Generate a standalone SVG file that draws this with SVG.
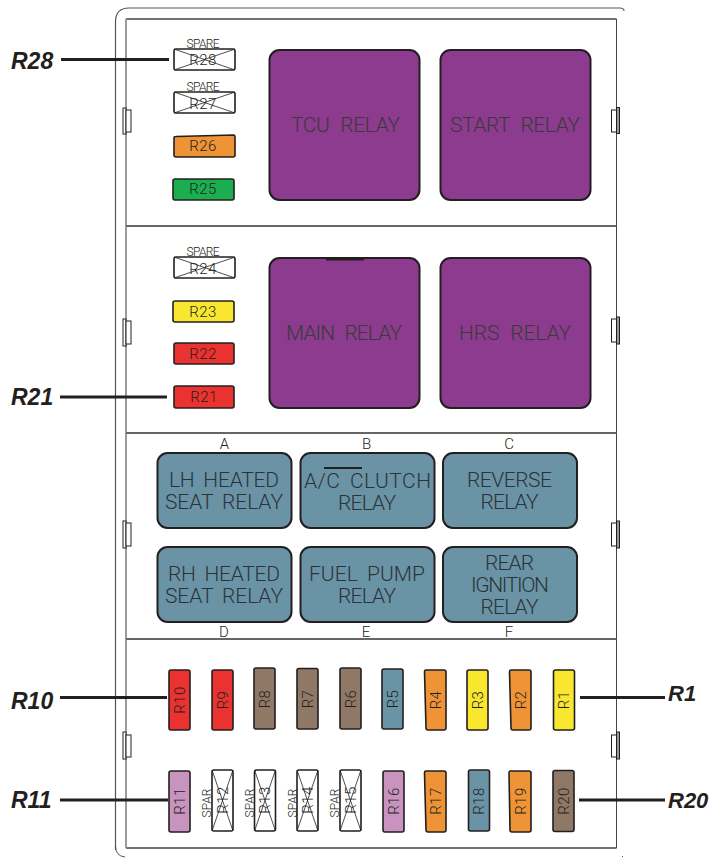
<svg xmlns="http://www.w3.org/2000/svg" width="717" height="858" viewBox="0 0 717 858">
<style>
text{font-family:Roboto,"Liberation Sans",Arial,sans-serif;font-weight:300;fill:#231f20;text-anchor:middle}
.f{stroke:#231f20;stroke-width:1.600}
.o{fill:#ee9336}.g{fill:#1aae4f}.y{fill:#f9e62f}.r{fill:#ea3330}.w{fill:#fff}.b{fill:#8f7866}.t{fill:#6a94a6}.p{fill:#c893bf}
.v{fill:#8d3b8e;stroke:#231f20;stroke-width:2}
.u{fill:#6a94a6;stroke:#231f20;stroke-width:2}
.x{stroke:#231f20;stroke-width:.8;fill:none}
.ft{font-size:15px;letter-spacing:.4px}.sp{font-size:12px}
.rl{font-size:21px;fill:#3a3a3a;word-spacing:6px}
.ty{font-size:21px;fill:#2a3338;word-spacing:4px}
.ab{font-size:15px}
.lb{font-family:"Liberation Sans",Arial,sans-serif;font-weight:bold;font-style:italic;fill:#231f20;text-anchor:start}
.c{stroke:#231f20;stroke-width:3;fill:none}
.cw{fill:#fff;stroke:#231f20;stroke-width:1}
.cg{fill:#999;stroke:#231f20;stroke-width:1}
</style>
<g id="housing" fill="none">
<path d="M115.500 850V22Q115.500 8 129 8H620Q624 8 624 11" stroke="#555" stroke-width="1.200"/>
<path d="M115.500 846Q115.500 856 125 857M622 857L623 856" stroke="#555" stroke-width="1"/>
<path d="M126 848V19H616.500V848Z" stroke="#444" stroke-width="1"/>
<path d="M126 19H616.500M126 848H616.500" stroke="#444" stroke-width="1.200"/>
<path d="M126 19V848" stroke="#999" stroke-width="1.500"/>
<path d="M126 226H616.500M126 433H616.500M126 639H616.500" stroke="#666" stroke-width="2"/>
</g>
<g id="clips">
<rect class="cw" x="123" y="108" width="3" height="26"/><rect class="cw" x="126" y="110" width="5" height="22"/>
<rect class="cw" x="123" y="319" width="3" height="27"/><rect class="cw" x="126" y="321" width="5" height="23"/>
<rect class="cw" x="123" y="521" width="3" height="27"/><rect class="cw" x="126" y="523" width="5" height="23"/>
<rect class="cw" x="123" y="732" width="3" height="27"/><rect class="cw" x="126" y="735" width="5" height="22"/>
<rect class="cw" x="611.500" y="110" width="5" height="22"/><rect class="cg" x="616.500" y="107.500" width="3" height="26"/>
<rect class="cw" x="611.500" y="319" width="5" height="23"/><rect class="cg" x="616.500" y="317" width="3" height="27"/>
<rect class="cw" x="611.500" y="523" width="5" height="23"/><rect class="cg" x="616.500" y="521" width="3" height="27"/>
<rect class="cw" x="611.500" y="735" width="5" height="22"/><rect class="cg" x="616.500" y="732" width="3" height="27"/>
</g>
<g id="R28"><rect class="f w" x="174" y="49" width="61" height="21" rx="2"/><path class="x" d="M174 49L235 70M174 70L235 49"/><text class="sp" x="203" y="48" textLength="33">SPARE</text><text class="ft" x="203" y="65">R28</text></g>
<g id="R27"><rect class="f w" x="174" y="92" width="61" height="21" rx="2"/><path class="x" d="M174 92L235 113M174 113L235 92"/><text class="sp" x="203" y="91" textLength="33">SPARE</text><text class="ft" x="203" y="109">R27</text></g>
<g id="R26"><path class="f o" d="M176 136.500L234 135Q235 135 235 137V155Q235 157 233 157H176Q174 157 174 155V138Q174 136.500 176 136.500Z"/><text class="ft" x="203" y="151">R26</text></g>
<g id="R25"><rect class="f g" x="173" y="179" width="61" height="21" rx="2"/><text class="ft" x="203" y="194">R25</text></g>
<g id="R24"><rect class="f w" x="174" y="257" width="61" height="21" rx="2"/><path class="x" d="M174 257L235 278M174 278L235 257"/><text class="sp" x="203" y="256" textLength="33">SPARE</text><text class="ft" x="203" y="274">R24</text></g>
<g id="R23"><rect class="f y" x="173" y="301" width="61" height="21" rx="2"/><text class="ft" x="203" y="317">R23</text></g>
<g id="R22"><rect class="f r" x="174" y="343" width="60" height="21" rx="2"/><text class="ft" x="203" y="359">R22</text></g>
<g id="R21"><rect class="f r" x="174" y="386" width="60" height="22" rx="2"/><text class="ft" x="204" y="402">R21</text></g>
<g id="TCU"><rect class="v" x="269.500" y="50" width="150" height="150" rx="10"/><text class="rl" x="345.500" y="132" textLength="109">TCU RELAY</text></g>
<g id="START"><rect class="v" x="440.500" y="50" width="150" height="150" rx="10"/><text class="rl" x="515" y="132" textLength="130">START RELAY</text></g>
<g id="MAIN"><rect class="v" x="269.500" y="258" width="150" height="150" rx="10"/><path d="M326 259.500H364" stroke="#231f20" stroke-width="2"/><text class="rl" x="344" y="340" textLength="116">MAIN RELAY</text></g>
<g id="HRS"><rect class="v" x="440.500" y="258" width="150" height="150" rx="10"/><text class="rl" x="515" y="340" textLength="112">HRS RELAY</text></g>
<g id="A"><rect class="u" x="157.500" y="453" width="134" height="75" rx="10"/><text class="ab" x="224.500" y="449">A</text><text class="ty" x="224" y="487" textLength="110">LH HEATED</text><text class="ty" x="224" y="509" textLength="118">SEAT RELAY</text></g>
<g id="B"><rect class="u" x="300.500" y="453" width="134" height="75" rx="10"/><text class="ab" x="366.500" y="449">B</text><path d="M324 468H362" stroke="#231f20" stroke-width="2"/><text class="ty" x="367.500" y="488" textLength="127">A/C CLUTCH</text><text class="ty" x="367" y="510" textLength="58">RELAY</text></g>
<g id="C"><rect class="u" x="443" y="453" width="134" height="75" rx="10"/><text class="ab" x="509" y="449">C</text><text class="ty" x="509.500" y="487" textLength="85">REVERSE</text><text class="ty" x="509.500" y="509" textLength="58">RELAY</text></g>
<g id="D"><rect class="u" x="157.500" y="547" width="134" height="75" rx="10"/><text class="ab" x="224" y="637">D</text><text class="ty" x="224" y="581" textLength="112">RH HEATED</text><text class="ty" x="224" y="603" textLength="118">SEAT RELAY</text></g>
<g id="E"><rect class="u" x="300.500" y="547" width="134" height="75" rx="10"/><text class="ab" x="366" y="637">E</text><text class="ty" x="367" y="581" textLength="116">FUEL PUMP</text><text class="ty" x="367" y="603" textLength="58">RELAY</text></g>
<g id="F"><rect class="u" x="443" y="547" width="134" height="75" rx="10"/><text class="ab" x="509" y="637">F</text><text class="ty" x="509.500" y="570" textLength="49">REAR</text><text class="ty" x="510" y="592" textLength="78">IGNITION</text><text class="ty" x="509.500" y="614" textLength="58">RELAY</text></g>
<g id="R10"><rect class="f r" x="169" y="670" width="21" height="60" rx="2"/><text class="ft" transform="translate(184.500 700) rotate(-90)">R10</text></g>
<g id="R9"><rect class="f r" x="212" y="670" width="21" height="60" rx="2"/><text class="ft" transform="translate(227.500 700) rotate(-90)">R9</text></g>
<g id="R8"><rect class="f b" x="254" y="668" width="21" height="61" rx="2"/><text class="ft" transform="translate(269.500 699) rotate(-90)">R8</text></g>
<g id="R7"><rect class="f b" x="297" y="668.500" width="21" height="60.500" rx="2"/><text class="ft" transform="translate(312.500 699) rotate(-90)">R7</text></g>
<g id="R6"><rect class="f b" x="340" y="668" width="21" height="61" rx="2"/><text class="ft" transform="translate(355.500 699) rotate(-90)">R6</text></g>
<g id="R5"><rect class="f t" x="382" y="669" width="21" height="60" rx="2"/><text class="ft" transform="translate(397.500 699) rotate(-90)">R5</text></g>
<g id="R4"><path class="f o" d="M426 670H444Q446 670 446 672V728Q446 730 444 730H428Q426 730 426 728L424.500 672Q424.500 670 426 670Z"/><text class="ft" transform="translate(440.500 700) rotate(-90)">R4</text></g>
<g id="R3"><rect class="f y" x="467" y="670" width="21" height="60" rx="2"/><text class="ft" transform="translate(482.500 700) rotate(-90)">R3</text></g>
<g id="R2"><path class="f o" d="M511 670H529Q531 670 531 672V728Q531 730 529 730H513Q511 730 511 728L509.500 672Q509.500 670 511 670Z"/><text class="ft" transform="translate(525.500 700) rotate(-90)">R2</text></g>
<g id="R1"><rect class="f y" x="553.500" y="670" width="21" height="60" rx="2"/><text class="ft" transform="translate(569 700) rotate(-90)">R1</text></g>
<g id="R11"><rect class="f p" x="169" y="771" width="21" height="61" rx="2"/><text class="ft" transform="translate(184.500 801) rotate(-90)">R11</text></g>
<g id="R12"><rect class="f w" x="212" y="770" width="21" height="61" rx="2"/><path class="x" d="M212 770L233 831M212 831L233 770"/><text class="ft" transform="translate(227.500 800) rotate(-90)">R12</text><text class="sp" transform="translate(210.500 803) rotate(-90)">SPAR</text></g>
<g id="R13"><rect class="f w" x="254.500" y="770" width="21" height="61" rx="2"/><path class="x" d="M254.500 770L275.500 831M254.500 831L275.500 770"/><text class="ft" transform="translate(270 800) rotate(-90)">R13</text><text class="sp" transform="translate(253.500 803) rotate(-90)">SPAR</text></g>
<g id="R14"><rect class="f w" x="297" y="770" width="21" height="61" rx="2"/><path class="x" d="M297 770L318 831M297 831L318 770"/><text class="ft" transform="translate(312.500 800) rotate(-90)">R14</text><text class="sp" transform="translate(296.500 803) rotate(-90)">SPAR</text></g>
<g id="R15"><rect class="f w" x="340" y="770" width="21" height="61" rx="2"/><path class="x" d="M340 770L361 831M340 831L361 770"/><text class="ft" transform="translate(355.500 800) rotate(-90)">R15</text><text class="sp" transform="translate(339 803) rotate(-90)">SPAR</text></g>
<g id="R16"><rect class="f p" x="383" y="771" width="21" height="61" rx="2"/><text class="ft" transform="translate(398.500 801) rotate(-90)">R16</text></g>
<g id="R17"><path class="f o" d="M426 771H444Q446 771 446 773V830Q446 832 444 832H428Q426 832 426 830L424.500 773Q424.500 771 426 771Z"/><text class="ft" transform="translate(440.500 801) rotate(-90)">R17</text></g>
<g id="R18"><rect class="f t" x="468.500" y="770" width="21" height="61" rx="2"/><text class="ft" transform="translate(484 801) rotate(-90)">R18</text></g>
<g id="R19"><path class="f o" d="M510 771H529Q531 771 531 773V830Q531 832 529 832H512Q510 832 510 830L509 773Q509 771 510 771Z"/><text class="ft" transform="translate(525.500 801) rotate(-90)">R19</text></g>
<g id="R20"><rect class="f b" x="553" y="770.500" width="21" height="61" rx="2"/><text class="ft" transform="translate(568.500 801) rotate(-90)">R20</text></g>
<g id="connectors">
<path class="c" d="M61 59.500H169"/>
<path class="c" d="M60 397H167"/>
<path class="c" d="M60 697.500H167"/>
<path class="c" d="M60 800H168"/>
<path class="c" d="M580 697.500H665"/>
<path class="c" d="M579 800H665"/>
</g>
<g id="labels">
<text class="lb" x="11" y="69" font-size="23">R28</text>
<text class="lb" x="11" y="405" font-size="23">R21</text>
<text class="lb" x="11" y="709" font-size="23">R10</text>
<text class="lb" x="11" y="808" font-size="23">R11</text>
<text class="lb" x="668" y="701" font-size="22">R1</text>
<text class="lb" x="668" y="808" font-size="22">R20</text>
</g>
</svg>
